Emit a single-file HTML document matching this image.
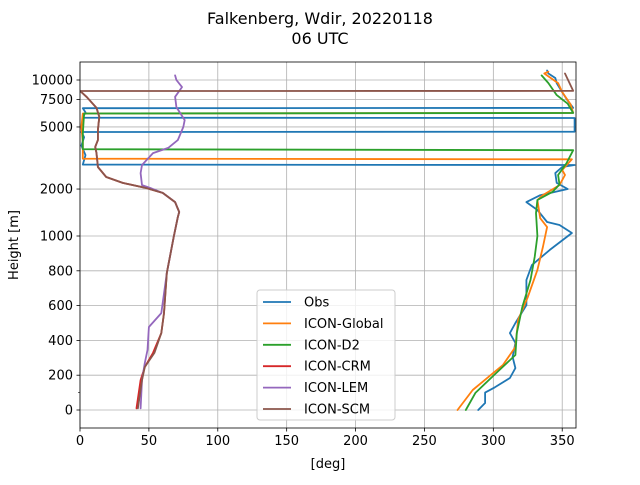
<!DOCTYPE html>
<html><head><meta charset="utf-8"><style>
body{margin:0;background:#fff;}
svg text{font-family:"DejaVu Sans","Liberation Sans",sans-serif;fill:#000;}
</style></head><body>
<svg id="chart" width="640" height="480" xmlns="http://www.w3.org/2000/svg">
<text x="320" y="24" font-size="16" text-anchor="middle">Falkenberg, Wdir, 20220118</text>
<text x="320" y="44" font-size="16" text-anchor="middle">06 UTC</text>
<g id="grid"></g><g id="series"></g><g id="axes"></g><g id="legend"></g>
<text x="328" y="468" font-size="13" text-anchor="middle">[deg]</text>
<text transform="translate(18,245) rotate(-90)" font-size="13" text-anchor="middle">Height [m]</text>
</svg>
<script>
const xTicks=[0,50,100,150,200,250,300,350];
const yTicks=[0,200,400,600,800,1000,2000,5000,7500,10000];
const seriesNames=["Obs","ICON-Global","ICON-D2","ICON-CRM","ICON-LEM","ICON-SCM"];
const seriesColors=["#1f77b4","#ff7f0e","#2ca02c","#d62728","#9467bd","#8c564b"];
const obsH=[0,40,100,130,184,241,305,385,442,500,603,747,833,920,1045,1176,1229,1468,1650,1825,2000,2190,2530,2770,2850,2870,3300,3800,4300,4640,4660,5200,5710,5730,6200,6600,6620,7380,8370,9550,10300,11000,11500];
const obsD=[289,294,294,301,312,316,314,316,312,316,324,324,328,341,357,348,339,332,324,334,354,346,345,350,359,2,4,1,3,1,359,359,359,2,4,2,358,354,350,346,345,340,339];
const globH=[0,115,259,362,517,649,805,937,1140,1300,1700,1830,2120,2460,2650,3100,3130,4000,5000,6100,6150,7000,8370,9550,11000,11300];
const globD=[274,285,307,316,318,325,332,336,339,334,332,336,348,352,350,357,2,2,1,2,358,356,350,347,337,340];
const d2H=[0,98,212,316,442,592,747,880,1000,1400,1700,1920,2140,2460,2920,3550,3600,4500,6100,6140,7050,8000,9550,10700];
const d2D=[280,287,302,316,317,321,327,330,332,331,332,343,348,347,353,358,2,2,3,358,354,346,340,335];
const scmH=[10,172,247,328,442,557,787,994,1320,1425,1650,1890,2030,2190,2390,2770,3400,3720,4120,4780,5800,6620,7760,8370,8500,8520,11000];
const scmD=[42,45,47,54,59,61,63,68,71,72,69,60,48,31,19,13,12,11,13,13,14,12,5,1,0.5,358,352];
const crmH=[10,172,247,328,442,557,787,994,1320,1425,1650,1890,2030,2190,2390,2770,3400,3720,4120,4780,5800,6620,7760,8370];
const crmD=[41,44,47,53,59,61,63,68,71,72,69,60,48,31,19,13,12,11,13,13,14,12,5,1];
const lemH=[10,172,270,345,477,557,787,994,1320,1425,1650,1890,2030,2120,2530,2850,3400,3670,4120,5000,5530,6700,7800,9000,10000,10700];
const lemD=[44,45,47,49,50,59,63,68,71,72,69,60,51,45,44,45,53,64,71,75,76,70,69,74,70,69];
const allH=[obsH,globH,d2H,crmH,lemH,scmH];
const allD=[obsD,globD,d2D,crmD,lemD,scmD];

const L=80,R=576,T=62,B=428;
const xs=d=>L+(d/360)*(R-L);
const ys=h=>h<=1000?410-0.174*h:236-156*Math.log10(h/1000);
const NS="http://www.w3.org/2000/svg";
function mk(tag,parent,attrs){const e=document.createElementNS(NS,tag);for(const k in attrs)e.setAttribute(k,attrs[k]);parent.appendChild(e);return e;}
const grid=document.getElementById('grid'),axes=document.getElementById('axes'),ser=document.getElementById('series'),leg=document.getElementById('legend');
xTicks.forEach(t=>{const x=xs(t);
 const g=mk('line',grid,{x1:x,x2:x,y1:T,y2:B,stroke:'#b0b0b0','stroke-width':0.8});
 
 
 mk('line',axes,{x1:x,x2:x,y1:B,y2:B+3.5,stroke:'#000','stroke-width':0.8});
 const tx=mk('text',axes,{x:x,y:B+17,'font-size':13,'text-anchor':'middle'});tx.textContent=t;
 
 
});
yTicks.forEach(t=>{const y=ys(t);
 const g=mk('line',grid,{x1:L,x2:R,y1:y,y2:y,stroke:'#b0b0b0','stroke-width':0.8});
 
 
 mk('line',axes,{x1:L-3.5,x2:L,y1:y,y2:y,stroke:'#000','stroke-width':0.8});
 const tx=mk('text',axes,{x:L-7,y:y+4.5,'font-size':13,'text-anchor':'end'});tx.textContent=t;
 
 
});
mk('line',axes,{x1:L-2,x2:L,y1:ys(100),y2:ys(100),stroke:'#000','stroke-width':0.6});
const fr=mk('rect',axes,{x:L,y:T,width:R-L,height:B-T,fill:'none',stroke:'#000','stroke-width':0.8});


const cp=mk('clipPath',ser,{id:'clip'});mk('rect',cp,{x:L,y:T,width:R-L,height:B-T});
allH.forEach((H,i)=>{const pts=H.map((h,j)=>xs(allD[i][j]).toFixed(1)+','+ys(h).toFixed(1)).join(' ');
 const p=mk('polyline',ser,{points:pts,fill:'none',stroke:seriesColors[i],'stroke-width':1.8,'stroke-linejoin':'round','stroke-linecap':'round','clip-path':'url(#clip)'});
 
 
});
const lb=mk('rect',leg,{x:257,y:290,width:138,height:130,rx:3,fill:'#fff','fill-opacity':0.8,stroke:'#ccc','stroke-width':1});


seriesNames.forEach((n,i)=>{const y=302+i*21.4;
 const ln=mk('line',leg,{x1:263,x2:291,y1:y,y2:y,stroke:seriesColors[i],'stroke-width':1.8});
 
 
 const t=mk('text',leg,{x:304,y:y+4.5,'font-size':13});t.textContent=n;
 
 
});
</script>
</body></html>
